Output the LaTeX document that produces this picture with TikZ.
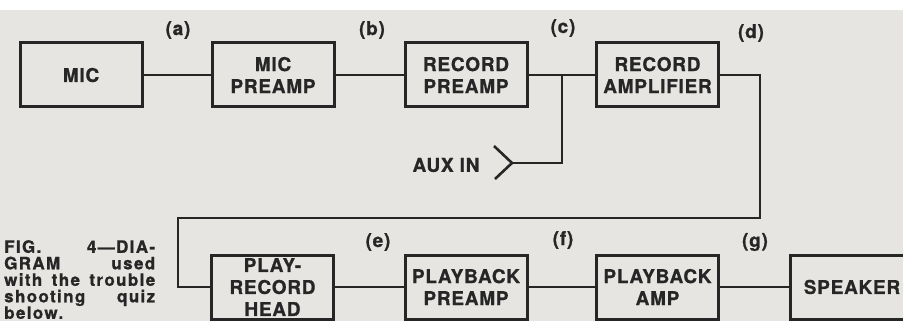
\documentclass[tikz,border=0pt]{standalone}
\usepackage{fontspec}
\setmainfont{TeX Gyre Heros}
\newfontfamily\boxfont[LetterSpace=4,FakeBold=0.8]{TeX Gyre Heros}
\newfontfamily\capfont[LetterSpace=8,FakeBold=1]{TeX Gyre Heros}
\usepackage{xcolor}
\definecolor{paper}{HTML}{E7E5E2}
\definecolor{ink}{HTML}{262626}

\begin{document}
\begin{tikzpicture}[x=1pt, y=-1pt,
      blk/.style={draw=ink, line width=3pt, minimum width=122pt, minimum height=64pt,
                  inner sep=0pt, align=center, text=ink,
                  font=\boxfont\bfseries\fontsize{19}{22}\selectfont},
      wire/.style={draw=ink, line width=1.8pt},
      tag/.style={text=ink, inner sep=0pt, font=\boxfont\bfseries\fontsize{19}{20}\selectfont}
    ]
      \useasboundingbox (0,0) rectangle (903,321);
      \fill[paper] (0,10) rectangle (903,321);

      % record chain
      \node[blk] (mic) at (81,75) {MIC};
      \node[blk] (micpre) at (273,75) {MIC\\PREAMP};
      \node[blk] (recpre) at (466,75) {RECORD\\PREAMP};
      \node[blk] (recamp) at (657.5,75) {RECORD\\AMPLIFIER};

      % playback chain
      \node[blk] (head) at (272.5,287) {PLAY-\\RECORD\\HEAD};
      \node[blk] (pbpre) at (466,287) {PLAYBACK\\PREAMP};
      \node[blk] (pbamp) at (657.5,287) {PLAYBACK\\AMP};
      \node[blk, minimum width=124pt] (spk) at (852,287) {SPEAKER};

      % test points
      \node[tag] (ta) at (178,30) {(a)};
      \node[tag] (tb) at (372,30) {(b)};
      \node[tag] (tc) at (563,28) {(c)};
      \node[tag] (td) at (751,33) {(d)};
      \node[tag] (te) at (378,242) {(e)};
      \node[tag] (tf) at (563,240) {(f)};
      \node[tag] (tg) at (755,242) {(g)};

      \draw[wire] (mic) -- (micpre);
      \draw[wire] (micpre) -- (recpre);
      \draw[wire] (recpre) -- (recamp);
      \draw[wire] (head) -- (pbpre);
      \draw[wire] (pbpre) -- (pbamp);
      \draw[wire] (pbamp) -- (spk);

      % aux input jack
      \coordinate (tap) at (562,75);
      \coordinate (jack) at (512,163);
      \node[text=ink, inner sep=0pt, font=\boxfont\bfseries\fontsize{19}{22}\selectfont] (auxin) at (446,165) {AUX IN};
      \draw[wire] (tap) |- (jack);
      \draw[ink, line width=2.6pt] (jack) ++(-18,-17) -- (jack) -- ++(-17,16);

      % record amp back down to the head
      \coordinate (rr) at (760,218);
      \coordinate (ll) at (178,218);
      \draw[wire] (recamp) -| (rr) -- (ll) |- (head);

      \node[text=ink, inner sep=0pt, anchor=north west, text width=151pt, align=left,
            font=\capfont\bfseries\fontsize{17}{16.5}\selectfont] (cap) at (4,240)
        {FIG.\hfill 4—DIA-\\GRAM\hfill used\\with\hfill the\hfill trouble\\shooting\hfill quiz\\below.};
    \end{tikzpicture}
\end{document}
